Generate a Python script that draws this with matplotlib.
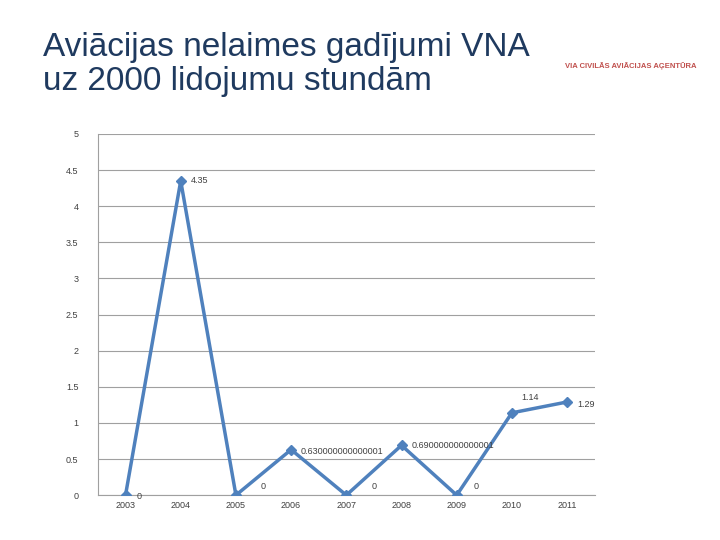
import matplotlib
matplotlib.use("Agg")
import matplotlib.pyplot as plt

years = ["2003","2004","2005","2006","2007","2008","2009","2010","2011"]
values = [0, 4.35, 0, 0.63, 0, 0.69, 0, 1.14, 1.29]
labels = ["0","4.35","0","0.630000000000001","0","0.690000000000001","0","1.14","1.29"]
yticks = [0,0.5,1,1.5,2,2.5,3,3.5,4,4.5,5]

plt.rcParams['font.family'] = ['Liberation Sans','DejaVu Sans']
fig = plt.figure(figsize=(7.2,5.4), dpi=100)
ax = fig.add_axes([0.136,0.083,0.69,0.669])
x = list(range(len(years)))
ax.plot(x, values, color="#4F81BD", lw=2.5, marker="D", ms=5, zorder=3)
offs = [(8,-1),(7,0),(18,6),(7,-1),(18,6),(7,0),(12,6),(7,11),(7,-2)]
for xi,v,l,o in zip(x,values,labels,offs):
    ax.annotate(l,(xi,v),xytext=o,textcoords="offset points",fontsize=6.5,color="#404040",va="center")
ax.set_xlim(-0.5,8.5); ax.set_ylim(0,5)
ax.set_xticks(x); ax.set_xticklabels(years)
ax.set_yticks(yticks); ax.set_yticklabels([f"{t:g}" for t in yticks])
ax.tick_params(labelsize=6.5, colors="#404040", length=0, pad=14)
ax.tick_params(axis="x", pad=4)
ax.grid(axis="y", color="#A0A0A0", lw=0.8)
for s in ["top","right"]:
    ax.spines[s].set_visible(False)
ax.spines["left"].set_color("#A0A0A0"); ax.spines["bottom"].set_color("#A0A0A0")
fig.text(0.06,0.82,"Aviācijas nelaimes gadījumi VNA\nuz 2000 lidojumu stundām",fontsize=24,color="#1F3A5F",va="bottom",linespacing=1.15)
fig.text(0.785,0.875,"VIA CIVILĀS AVIĀCIJAS AĢENTŪRA",fontsize=5.5,color="#C0504D",weight="bold")
fig.savefig("out.png")
